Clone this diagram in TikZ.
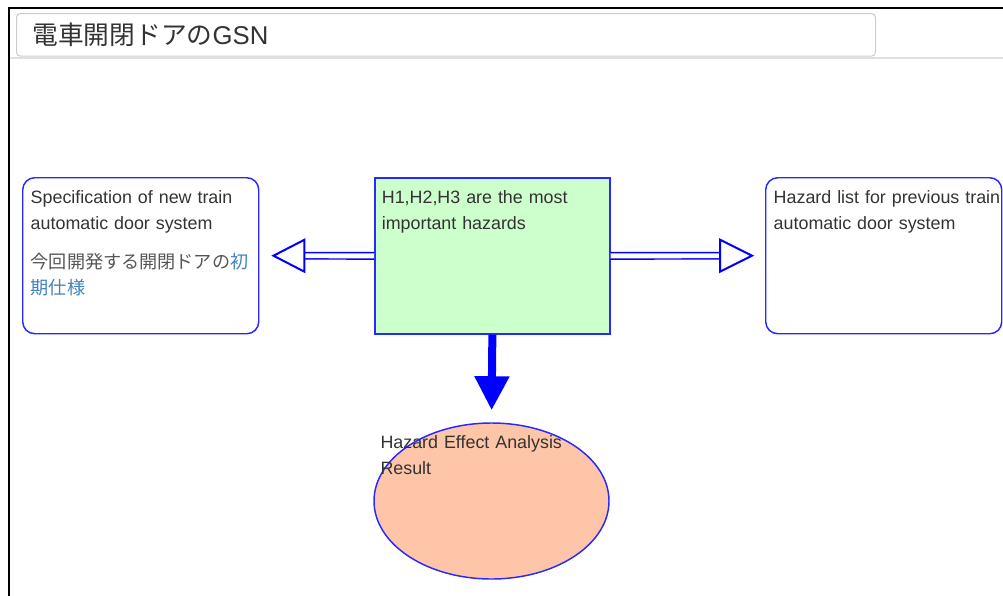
\documentclass[tikz,border=0pt]{standalone}
\usepackage{fontspec}
\setmainfont{Liberation Sans}
\newfontfamily\jpfont{Noto Sans CJK JP}
\usetikzlibrary{arrows.meta,calc,shapes.geometric}
\definecolor{goalblue}{RGB}{40,40,255}
\definecolor{textgray}{RGB}{51,51,51}
\definecolor{jpgray}{RGB}{85,85,85}
\definecolor{linkblue}{RGB}{66,130,190}
\definecolor{goalgreen}{RGB}{204,255,204}
\definecolor{resultpeach}{RGB}{255,197,168}
\definecolor{framegray}{RGB}{204,204,204}
\tikzset{
  boxtext/.style={text=textgray, font=\fontsize{13.4pt}{19.5pt}\selectfont, align=left,
    anchor=north west, inner xsep=6pt, inner ysep=7.5pt, text width=165pt,
    text height=12pt, text depth=90pt},
  ctxbox/.style={boxtext, draw=goalblue, line width=1.1pt, rounded corners=9pt},
  goalbox/.style={boxtext, draw=goalblue, line width=1.3pt, fill=goalgreen, inner xsep=5.25pt, text width=165.75pt},
  resultshape/.style={ellipse, draw=goalblue, line width=1.1pt, fill=resultpeach, inner sep=0pt,
    minimum width=176.25pt, minimum height=117pt},
  hollowshaft/.style={draw=blue, line width=1.1pt, double=white, double distance=3.7pt},
  hollowhead/.style={draw=blue, line width=1.5pt, fill=white, line join=miter},
  solidarrow/.style={draw=blue, line width=6pt, -{Triangle[length=25.5pt, width=24.75pt]}, shorten >=9pt}
}
\begin{document}
\begin{tikzpicture}[x=0.75pt, y=-0.75pt]
  \useasboundingbox (0,0) rectangle (1003,596);

  % page frame and title bar
  \draw[line width=1.5pt] (8.5,596) -- (8.5,7.5) -- (1003,7.5);
  \draw[framegray!60, line width=1.5pt] (9.5,58) -- (1003,58);
  \node[draw=framegray, line width=0.75pt, rounded corners=3pt, anchor=north west,
    minimum height=32pt, inner xsep=12pt, text width=620.25pt, align=left,
    text=textgray, font=\fontsize{19.3pt}{22pt}\selectfont] (title) at (16,13)
    {{\jpfont 電車開閉ドアの}GSN};

  % goal and contexts
  \node[goalbox] (hazards) at (374,177) {H1,H2,H3 are the most\\important hazards};
  \node[ctxbox] (spec) at (22,177) {Specification of new train\\automatic door system\\[9.75pt]
    {\jpfont\fontsize{13.6pt}{19.5pt}\selectfont\color{jpgray}今回開発する開閉ドアの\textcolor{linkblue}{初}\\\textcolor{linkblue}{期仕様}}};
  \node[ctxbox] (hazlist) at (765,177) {\mbox{Hazard list for previous train}\\automatic door system};

  % solution
  \node[resultshape] (result) at (491.5,501) {};
  \node[boxtext, inner sep=0pt, text depth=30pt, text width=200pt] (resulttext)
    at ($(result.west |- result.north)+(7,10)$) {Hazard Effect Analysis\\Result};

  % links
  \draw[hollowshaft] (hazards.west) -- ($(spec.east)+(45,0)$) coordinate (lbase);
  \draw[hollowhead] ($(lbase)+(0,-16)$) -- ($(spec.east)+(14,0)$) -- ($(lbase)+(0,16)$) -- cycle;
  \draw[hollowshaft] (hazards.east) -- ($(hazlist.west)+(-45,0)$) coordinate (rbase);
  \draw[hollowhead] ($(rbase)+(0,-16)$) -- ($(hazlist.west)+(-13,0)$) -- ($(rbase)+(0,16)$) -- cycle;
  \draw[solidarrow] (hazards.south) -- (result.north);
\end{tikzpicture}
\end{document}
